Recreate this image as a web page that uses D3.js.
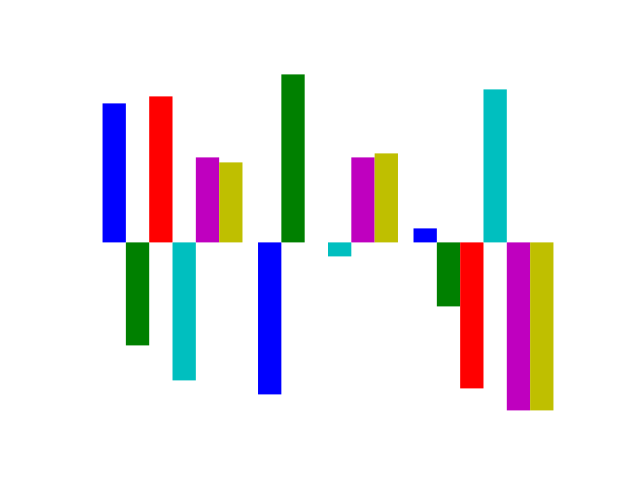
<!DOCTYPE html>
<html><head><meta charset="utf-8">
<script src="https://cdn.jsdelivr.net/npm/d3@7"></script>
<style>body{margin:0;background:#fff}</style>
</head><body>
<script>
const groups = [0, 1, 2];
const seriesNames = ["b", "g", "r", "c", "m", "y"];
const seriesColors = ["#0000ff", "#008000", "#ff0000", "#00bfbf", "#bf00bf", "#bfbf00"];
const s_b = [1.39, -1.52, 0.14];
const s_g = [-1.03, 1.68, -0.64];
const s_r = [1.46, 0.0, -1.46];
const s_c = [-1.38, -0.14, 1.53];
const s_m = [0.85, 0.85, -1.68];
const s_y = [0.80, 0.89, -1.68];
const seriesValues = [s_b, s_g, s_r, s_c, s_m, s_y];
const barWidth = 0.15;

(function () {
  const W = 640, H = 480;
  const mLeft = 0.125 * W, mRight = 0.9 * W, mTop = (1 - 0.88) * H, mBottom = (1 - 0.11) * H;

  const svg = d3.select("body").append("svg").attr("width", W).attr("height", H);

  const xmin = 0, xmax = groups[groups.length - 1] + seriesNames.length * barWidth;
  const xpad = (xmax - xmin) * 0.05;
  const x = d3.scaleLinear().domain([xmin - xpad, xmax + xpad]).range([mLeft, mRight]);

  const all = seriesValues.flat().concat([0]);
  const ymin = d3.min(all), ymax = d3.max(all);
  const ypad = (ymax - ymin) * 0.05;
  const y = d3.scaleLinear().domain([ymin - ypad, ymax + ypad]).range([mBottom, mTop]);

  const bars = [];
  seriesValues.forEach((vals, i) => {
    vals.forEach((v, j) => bars.push({g: groups[j], i, v}));
  });

  svg.selectAll("rect.bar").data(bars).enter().append("rect")
    .attr("class", "bar")
    .attr("x", d => x(d.g + d.i * barWidth))
    .attr("width", d => x(d.g + (d.i + 1) * barWidth) - x(d.g + d.i * barWidth))
    .attr("y", d => y(Math.max(0, d.v)))
    .attr("height", d => Math.abs(y(d.v) - y(0)))
    .attr("fill", d => seriesColors[d.i]);
})();
</script>
</body></html>
